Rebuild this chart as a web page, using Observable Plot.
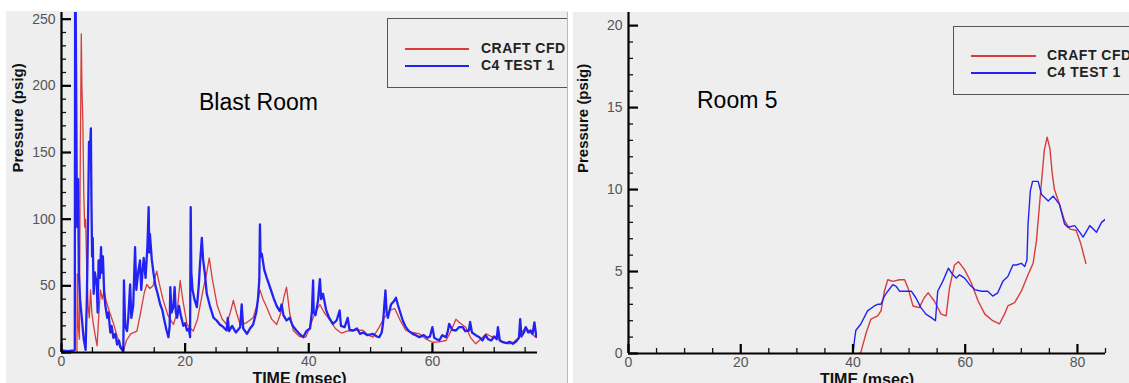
<!DOCTYPE html>
<html>
<head>
<meta charset="utf-8">
<script src="https://cdn.jsdelivr.net/npm/d3@7"></script>
<script src="https://cdn.jsdelivr.net/npm/@observablehq/plot@0.6"></script>
<style>
  html, body { margin: 0; padding: 0; background: #fff; }
  #root { position: relative; width: 1129px; height: 383px; overflow: hidden; font-family: "Liberation Sans", Arial, sans-serif; }
  .panel { position: absolute; top: 0; height: 383px; overflow: hidden; }
  .bg { position: absolute; background: #eeeeee; }
  .panel svg { position: absolute; left: 0; top: 0; }
  .legend { position: absolute; border: 1.5px solid #555; box-sizing: border-box; }
  .legend .row { position: absolute; font-weight: bold; font-size: 14px; letter-spacing: 0.5px; color: #222; line-height: 14px; white-space: nowrap; }
  .legend .sw { position: absolute; height: 1.6px; }
  .title { position: absolute; font-size: 23px; color: #000; white-space: nowrap; line-height: 1; }
  .divider { position: absolute; left: 567px; top: 12px; width: 1px; height: 371px; background: #f2a0a0; }
</style>
</head>
<body>
<div id="root">
  <div class="panel" id="left" style="left:0; width:568px;">
    <div class="bg" style="left:6px; top:11px; width:562px; height:372px;"></div>
  </div>
  <div class="panel" id="right" style="left:568px; width:561px;">
    <div class="bg" style="left:5px; top:12px; width:556px; height:371px;"></div>
  </div>
  <div class="divider"></div>
</div>
<script>
// ---------- data (time in msec, pressure in psig) ----------
const seriesNames = ["CRAFT CFD", "C4 TEST 1"];
const seriesColors = ["#d83c3c", "#2222f2"];
const panelTitles = ["Blast Room", "Room 5"];
const xAxisTitle = "TIME (msec)";
const yAxisTitle = "Pressure (psig)";

const blastXTicks = [0, 20, 40, 60];
const blastXMinor = [5, 10, 15, 25, 30, 35, 45, 50, 55, 65, 70, 75];
const blastYTicks = [0, 50, 100, 150, 200, 250];
const blastYMinor = [10, 20, 30, 40, 60, 70, 80, 90, 110, 120, 130, 140, 160, 170, 180, 190, 210, 220, 230, 240];

const room5XTicks = [0, 20, 40, 60, 80];
const room5XMinor = [5, 10, 15, 25, 30, 35, 45, 50, 55, 65, 70, 75, 85];
const room5YTicks = [0, 5, 10, 15, 20];
const room5YMinor = [1, 2, 3, 4, 6, 7, 8, 9, 11, 12, 13, 14, 16, 17, 18, 19];

const blastCraft = [
  [0,0],[2.5,0],[2.55,59],[2.7,20],[2.9,10],[3.0,120],[3.2,239],[3.3,200],[3.45,174],[3.6,120],[3.75,94],[3.9,100],
  [4.1,60],[4.3,35],[4.5,26],[4.7,47],[4.9,30],[5.2,20],[5.5,11.5],[5.75,5],[6.0,25],[6.3,47],[6.6,40],[6.9,47],
  [7.2,39],[7.8,30],[8.4,22],[9.0,12],[9.6,5],[10.0,1],[10.5,9],[11.2,14],[12.2,16],[12.8,30],[13.4,45],[13.8,51],
  [14.3,48],[14.8,50],[15.4,61],[15.8,52],[16.4,40],[17.2,28],[18.1,21],[18.7,30],[19.2,54],[19.6,40],[20.3,21],
  [21.3,16],[22.0,25],[22.9,47],[23.5,60],[23.9,71],[24.4,55],[25.2,35],[26.0,25],[26.7,21],[27.3,30],[27.8,39],
  [28.3,30],[28.9,21],[29.8,22],[31.0,26],[31.6,35],[32.1,47],[32.6,40],[33.2,34],[34.0,25],[34.8,21],[35.5,30],
  [36.0,42],[36.4,49],[36.9,30],[37.5,16.5],[38.5,12],[39.5,11.5],[40.1,18],[40.7,26],[41.3,32],[41.8,36],[42.5,30],
  [43.4,24.5],[44.3,18],[45.3,14.5],[46.2,16],[47.2,16.5],[48.0,17],[48.8,16.5],[49.6,13],[50.4,11.5],[51.4,19],
  [52.2,26],[53.1,31.5],[53.9,33],[54.8,24],[55.7,16.5],[56.8,15],[57.9,14],[59.0,10],[60.0,7.7],[61.1,8],[62.2,9],
  [63.0,16],[63.8,25],[64.5,22],[65.4,19],[66.2,11],[67.0,6.5],[67.8,10],[68.7,14],[69.5,12],[70.3,11.5],[71.4,8],
  [72.4,6.5],[73.2,8],[74.0,11.5],[74.6,16],[75.1,19],[75.8,15],[76.7,11.5]
];

const blastTest = [
  [0,1.5],[1.0,1],[2.0,1.5],[2.15,2],[2.2,258],[2.3,258],[2.35,216],[2.45,134],[2.55,94],[2.7,130],[2.8,60],[3.0,40],
  [3.3,25],[3.6,10],[3.9,2],[4.1,40],[4.3,100],[4.45,158],[4.6,150],[4.75,168],[4.85,110],[4.95,72],[5.05,86],[5.2,44],
  [5.4,60],[5.7,51],[5.85,30],[6.0,69],[6.2,56],[6.4,79],[6.5,60],[6.7,72],[6.9,45],[7.1,35],[7.4,26],[7.6,30],[7.9,15],
  [8.1,20],[8.4,11],[8.7,14],[9.0,6],[9.3,9],[9.5,4],[9.8,2],[10.0,1],[10.1,54],[10.3,20],[10.6,16],[10.8,26],[11.1,51],
  [11.3,26],[11.6,35],[11.9,79],[12.1,47],[12.4,60],[12.7,69],[12.9,47],[13.1,60],[13.3,71],[13.6,56],[13.9,80],[14.1,109],
  [14.2,75],[14.3,89],[14.6,70],[14.9,59],[15.2,50],[15.5,45],[15.97,36],[16.3,32],[16.6,25],[17.0,16.5],[17.3,11.5],
  [17.5,20],[17.6,49],[17.8,30],[18.1,34],[18.3,49],[18.5,30],[18.7,26],[19.0,35],[19.3,28],[19.7,20],[20.0,22],[20.3,16.5],
  [20.6,18],[20.8,11.5],[20.9,109],[21.0,60],[21.2,47],[21.5,40],[21.9,34],[22.2,50],[22.4,66],[22.7,86],[22.9,70],
  [23.2,59],[23.5,44],[24.0,35],[24.6,26],[25.1,24],[25.6,21],[26.2,19],[26.7,16.5],[26.9,26],[27.1,16],[27.6,20],
  [28.2,15],[28.9,19],[29.15,36],[29.4,18],[30.0,14],[30.5,18],[31.0,21],[31.5,30],[31.8,41],[32.0,55],[32.1,96],
  [32.2,72],[32.4,74],[32.8,62],[33.2,56],[33.8,48],[34.3,41],[34.8,35],[35.3,31],[35.6,36],[35.9,28],[36.4,24],
  [36.9,26],[37.4,20],[38.0,16.5],[38.5,14],[39.1,11.5],[39.6,16],[40.2,18],[40.5,30],[40.7,54],[40.8,30],[41.1,28],
  [41.5,39],[41.8,55],[42.0,40],[42.3,44],[42.8,32],[43.3,26],[43.9,21.5],[44.5,24],[45.0,31.5],[45.2,20],[45.8,19],
  [46.3,26],[46.6,17],[47.2,16.5],[47.8,18],[48.3,14],[48.8,15],[49.5,13],[50.4,14],[51.0,12],[51.4,11.5],[51.8,15],
  [52.0,21.5],[52.4,46.5],[52.6,30],[52.8,26],[53.3,36],[53.7,38],[54.1,41],[54.4,36],[54.7,31.5],[55.2,24],[55.7,19],
  [56.2,16],[56.8,14],[57.3,13],[57.9,11.5],[58.6,13],[59.2,11],[59.6,12],[60.0,19],[60.3,11],[60.7,10],[61.1,9],
  [61.6,13],[62.2,11.5],[62.5,16],[62.7,21.5],[63.2,17],[63.8,16.5],[64.3,19],[64.9,19],[65.3,16],[65.9,16.5],[66.1,23],
  [66.4,15],[67.0,13],[67.6,11.5],[68.1,9],[68.6,13],[69.0,10],[69.5,9],[70.0,12],[70.4,10],[70.6,19],[70.9,9],[71.4,7.7],
  [72.0,7],[72.5,8],[73.0,6.5],[73.5,8],[74.0,11],[74.2,25],[74.4,12],[74.8,15],[75.1,19],[75.5,15],[75.9,16.5],[76.2,14],
  [76.5,22.5],[76.8,12],[77.0,11.5]
];

const room5Craft = [
  [41.2,0],[41.4,0.07],[42.3,1.2],[43.2,2.1],[44.4,2.3],[45.0,2.6],[45.6,3.8],[46.2,4.5],[47.1,4.4],[48.3,4.5],[49.2,4.5],
  [49.8,4.0],[50.7,2.9],[51.8,2.8],[52.7,3.4],[53.4,3.7],[54.5,3.2],[55.7,2.4],[56.6,2.3],[57.2,4.0],[58.1,5.4],[58.8,5.6],
  [59.9,5.1],[61.1,4.3],[62.3,3.2],[63.5,2.4],[64.9,2.0],[66.1,1.8],[67.0,2.4],[67.6,2.9],[68.8,3.1],[70.0,3.8],[71.2,4.8],
  [72.1,5.5],[72.7,6.9],[73.3,9.3],[73.6,10.5],[74.1,12.4],[74.6,13.2],[75.1,12.5],[75.5,11.0],[75.9,10.0],[76.8,9.1],
  [77.7,8.1],[78.6,7.6],[79.8,7.5],[80.6,6.7],[81.5,5.5]
];

const room5Test = [
  [40.0,0],[40.3,0.9],[40.5,1.4],[41.4,1.8],[42.6,2.6],[43.8,2.9],[44.4,3.0],[45.0,3.0],[45.6,3.5],[46.2,3.8],[47.1,4.2],[47.7,4.1],
  [48.3,3.8],[49.2,3.8],[50.4,3.8],[51.2,3.4],[52.1,2.8],[53.0,2.4],[53.9,2.2],[54.7,2.0],[55.1,3.8],[56.0,4.4],[57.0,5.2],
  [57.8,4.8],[58.4,4.6],[59.0,4.8],[59.9,4.6],[60.8,4.2],[61.7,3.9],[62.9,3.8],[64.0,3.8],[64.9,3.5],[65.8,3.7],[66.7,4.4],
  [67.6,4.7],[68.5,5.4],[69.1,5.4],[70.0,5.5],[70.6,5.3],[71.0,5.7],[71.2,7.9],[71.6,9.9],[72.0,10.5],[73.0,10.5],
  [73.6,9.7],[74.8,9.3],[75.7,9.6],[76.8,9.1],[77.7,7.9],[78.3,7.7],[79.5,7.8],[80.4,7.4],[81.0,7.1],[82.2,7.8],[83.4,7.4],
  [84.3,8.0],[85.0,8.2]
];

// ---------- drawing ----------
function panel(cfg) {
  const fx = d => d[0], fy = d => d[1];
  const id = d => d;
  const frameW = cfg.width - cfg.ml - cfg.mr;
  const frameH = 383 - 12 - cfg.mb;
  // tick lengths converted from pixels into data units of each scale
  const kx = (cfg.xDomain[1] - cfg.xDomain[0]) / frameW;
  const ky = (cfg.yDomain[1] - cfg.yDomain[0]) / frameH;
  const x0 = cfg.xDomain[0], y0 = cfg.yDomain[0];
  return Plot.plot({
    width: cfg.width, height: 383,
    marginLeft: cfg.ml, marginRight: cfg.mr, marginTop: 12, marginBottom: cfg.mb,
    style: { background: "transparent", fontFamily: "'Liberation Sans', Arial, sans-serif", fontSize: "14px", overflow: "visible" },
    x: { domain: cfg.xDomain, label: null },
    y: { domain: cfg.yDomain, label: null },
    marks: [
      Plot.line(cfg.craft, { x: fx, y: fy, stroke: seriesColors[0], strokeWidth: cfg.redW, clip: true }),
      Plot.line(cfg.test, { x: fx, y: fy, stroke: seriesColors[1], strokeWidth: cfg.blueW, clip: true }),
      // inward tick marks (minor and major)
      Plot.ruleX(cfg.xMinor, { x: id, y1: y0, y2: y0 + 5 * ky, stroke: "#111", strokeWidth: 1.3 }),
      Plot.ruleX(cfg.xTicks, { x: id, y1: y0, y2: y0 + 9 * ky, stroke: "#000", strokeWidth: 2.2 }),
      Plot.ruleY(cfg.yMinor, { y: id, x1: x0, x2: x0 + 5 * kx, stroke: "#111", strokeWidth: 1.3 }),
      Plot.ruleY(cfg.yTicks, { y: id, x1: x0, x2: x0 + 10 * kx, stroke: "#000", strokeWidth: 2.2 }),
      // tick labels
      Plot.axisX(cfg.xTicks, { tickSize: 0, tickPadding: 4, fill: "#555", fontSize: 14 }),
      Plot.axisY(cfg.yTicks, { tickSize: 0, tickPadding: 6, fill: "#555", fontSize: 14 }),
      // axis lines
      Plot.ruleX([x0], { stroke: "#000", strokeWidth: 2.2 }),
      Plot.ruleY([y0], { stroke: "#000", strokeWidth: 2.2 }),
      Plot.text([xAxisTitle], { frameAnchor: "bottom", lineAnchor: "bottom", dy: 31, fontWeight: "bold", fontSize: 16, letterSpacing: 0.8, fill: "#111" }),
      Plot.text([yAxisTitle], { frameAnchor: "left", rotate: -90, dx: cfg.yTitleDx, dy: -10, fontWeight: "bold", fontSize: 15, letterSpacing: 0.3, fill: "#111" })
    ]
  });
}

function legend(parent, left, top, width, height, lineX0, lineX1, textX, rowYs) {
  const box = document.createElement("div");
  box.className = "legend";
  Object.assign(box.style, { left: left + "px", top: top + "px", width: width + "px", height: height + "px" });
  seriesNames.forEach((name, i) => {
    const sw = document.createElement("div");
    sw.className = "sw";
    Object.assign(sw.style, { left: (lineX0 - left) + "px", top: (rowYs[i] - top - 1) + "px", width: (lineX1 - lineX0) + "px", background: seriesColors[i] });
    box.appendChild(sw);
    const t = document.createElement("div");
    t.className = "row";
    t.textContent = name;
    Object.assign(t.style, { left: (textX - left) + "px", top: (rowYs[i] - top - 8) + "px" });
    box.appendChild(t);
  });
  parent.appendChild(box);
}

function title(parent, text, left, top) {
  const d = document.createElement("div");
  d.className = "title";
  d.textContent = text;
  Object.assign(d.style, { left: left + "px", top: top + "px" });
  parent.appendChild(d);
}

const leftEl = document.getElementById("left");
const rightEl = document.getElementById("right");

leftEl.appendChild(panel({
  width: 568, ml: 61, mr: 31, mb: 31, xDomain: [0, 77], yDomain: [0, 255],
  xTicks: blastXTicks, xMinor: blastXMinor, yTicks: blastYTicks, yMinor: blastYMinor,
  craft: blastCraft, test: blastTest, redW: 1.3, blueW: 2.3, yTitleDx: -43
}));
rightEl.appendChild(panel({
  width: 561, ml: 60, mr: 24, mb: 30, xDomain: [0, 85], yDomain: [0, 20.8],
  xTicks: room5XTicks, xMinor: room5XMinor, yTicks: room5YTicks, yMinor: room5YMinor,
  craft: room5Craft, test: room5Test, redW: 1.4, blueW: 1.4, yTitleDx: -45
}));

legend(leftEl, 387, 18, 200, 70, 404, 468, 480, [48, 65]);
legend(rightEl, 953 - 568, 26, 200, 69, 970 - 568, 1035 - 568, 1046 - 568, [55, 72]);

title(leftEl, panelTitles[0], 199, 91);
title(rightEl, panelTitles[1], 697 - 568, 89);
</script>
</body>
</html>
